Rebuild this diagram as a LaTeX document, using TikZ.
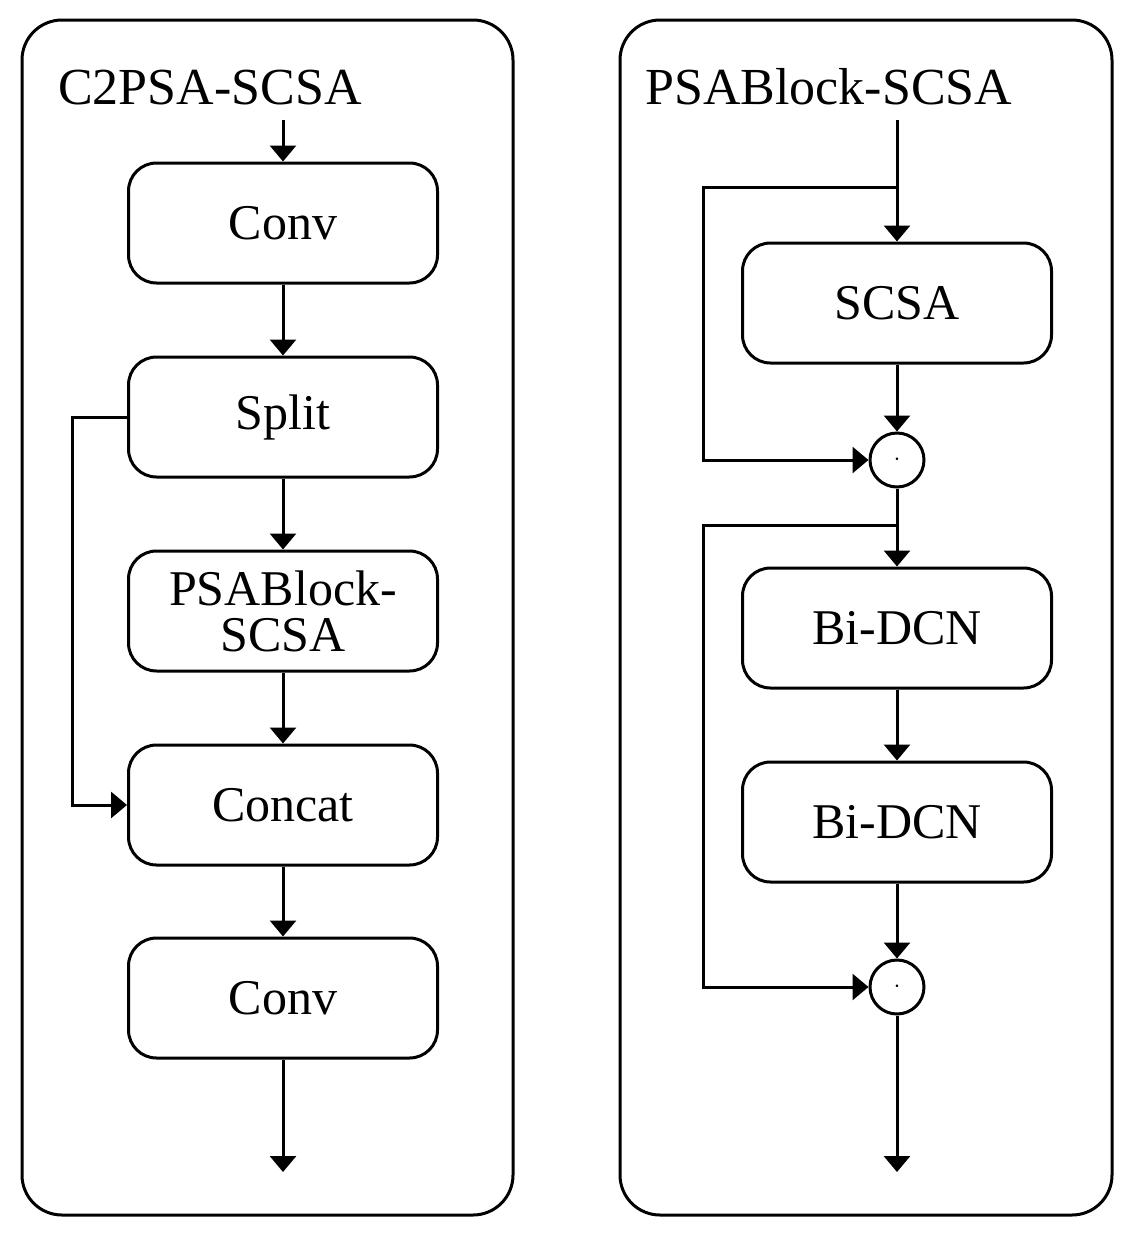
\documentclass[tikz,border=0pt]{standalone}
\usepackage{fontspec}
\setmainfont{Liberation Serif}
\usetikzlibrary{arrows.meta}
\begin{document}
\begin{tikzpicture}[x=1pt,y=-1pt,
  frame/.style={draw,line width=3pt,rounded corners=40pt},
  blk/.style={draw,line width=3pt,rounded corners=28pt,minimum width=309pt,minimum height=120pt,font=\fontsize{50}{50}\selectfont,inner sep=0pt},
  dot/.style={draw,circle,line width=3pt,minimum size=54pt,inner sep=0pt,font=\fontsize{40}{40}\selectfont},
  ar/.style={line width=3pt,-{Triangle[length=16pt,width=26pt]}},
  ttl/.style={font=\fontsize{52}{52}\selectfont,anchor=base west,inner sep=0pt}]
\useasboundingbox (0,0) rectangle (1128,1237);
\draw[frame] (22,20) rectangle (513,1215);
\draw[frame] (620,20) rectangle (1112,1215);
\node[ttl] (t1) at (58,104) {C2PSA-SCSA};
\node[ttl] (t2) at (645,104) {PSABlock-SCSA};
% left
\node[blk] (c1) at (283,223) {Conv};
\node[blk] (sp) at (283,417) {Split};
\node[blk,align=center,font=\fontsize{50}{46}\selectfont] (ps) at (283,611) {PSABlock-\\SCSA};
\node[blk] (cc) at (283,805) {Concat};
\node[blk] (c2) at (283,998) {Conv};
\coordinate (in1) at (283,120);
\coordinate (out1) at (283,1172);
\coordinate (l1) at (72,417);
\coordinate (l2) at (72,805);
\draw[ar] (in1) -- (c1);
\draw[ar] (c1) -- (sp);
\draw[ar] (sp) -- (ps);
\draw[ar] (ps) -- (cc);
\draw[ar] (cc) -- (c2);
\draw[ar] (c2) -- (out1);
\draw[ar] (sp.west) -- (l1) -- (l2) -- (cc.west);
% right
\node[blk] (sc) at (897,303) {SCSA};
\node[dot] (d1) at (897,460) {$\cdot$};
\node[blk] (b1) at (897,628) {Bi-DCN};
\node[blk] (b2) at (897,822) {Bi-DCN};
\node[dot] (d2) at (897,987) {$\cdot$};
\coordinate (in2) at (897,120);
\coordinate (j1) at (897,187);
\coordinate (k1) at (703,187);
\coordinate (k2) at (703,460);
\coordinate (j2) at (897,525);
\coordinate (k3) at (703,525);
\coordinate (k4) at (703,987);
\coordinate (out2) at (897,1172);
\draw[ar] (in2) -- (sc);
\draw[ar] (sc) -- (d1);
\draw[ar] (d1) -- (b1);
\draw[ar] (b1) -- (b2);
\draw[ar] (b2) -- (d2);
\draw[ar] (d2) -- (out2);
\draw[ar] (j1) -- (k1) -- (k2) -- (d1);
\draw[ar] (j2) -- (k3) -- (k4) -- (d2);
\end{tikzpicture}
\end{document}
